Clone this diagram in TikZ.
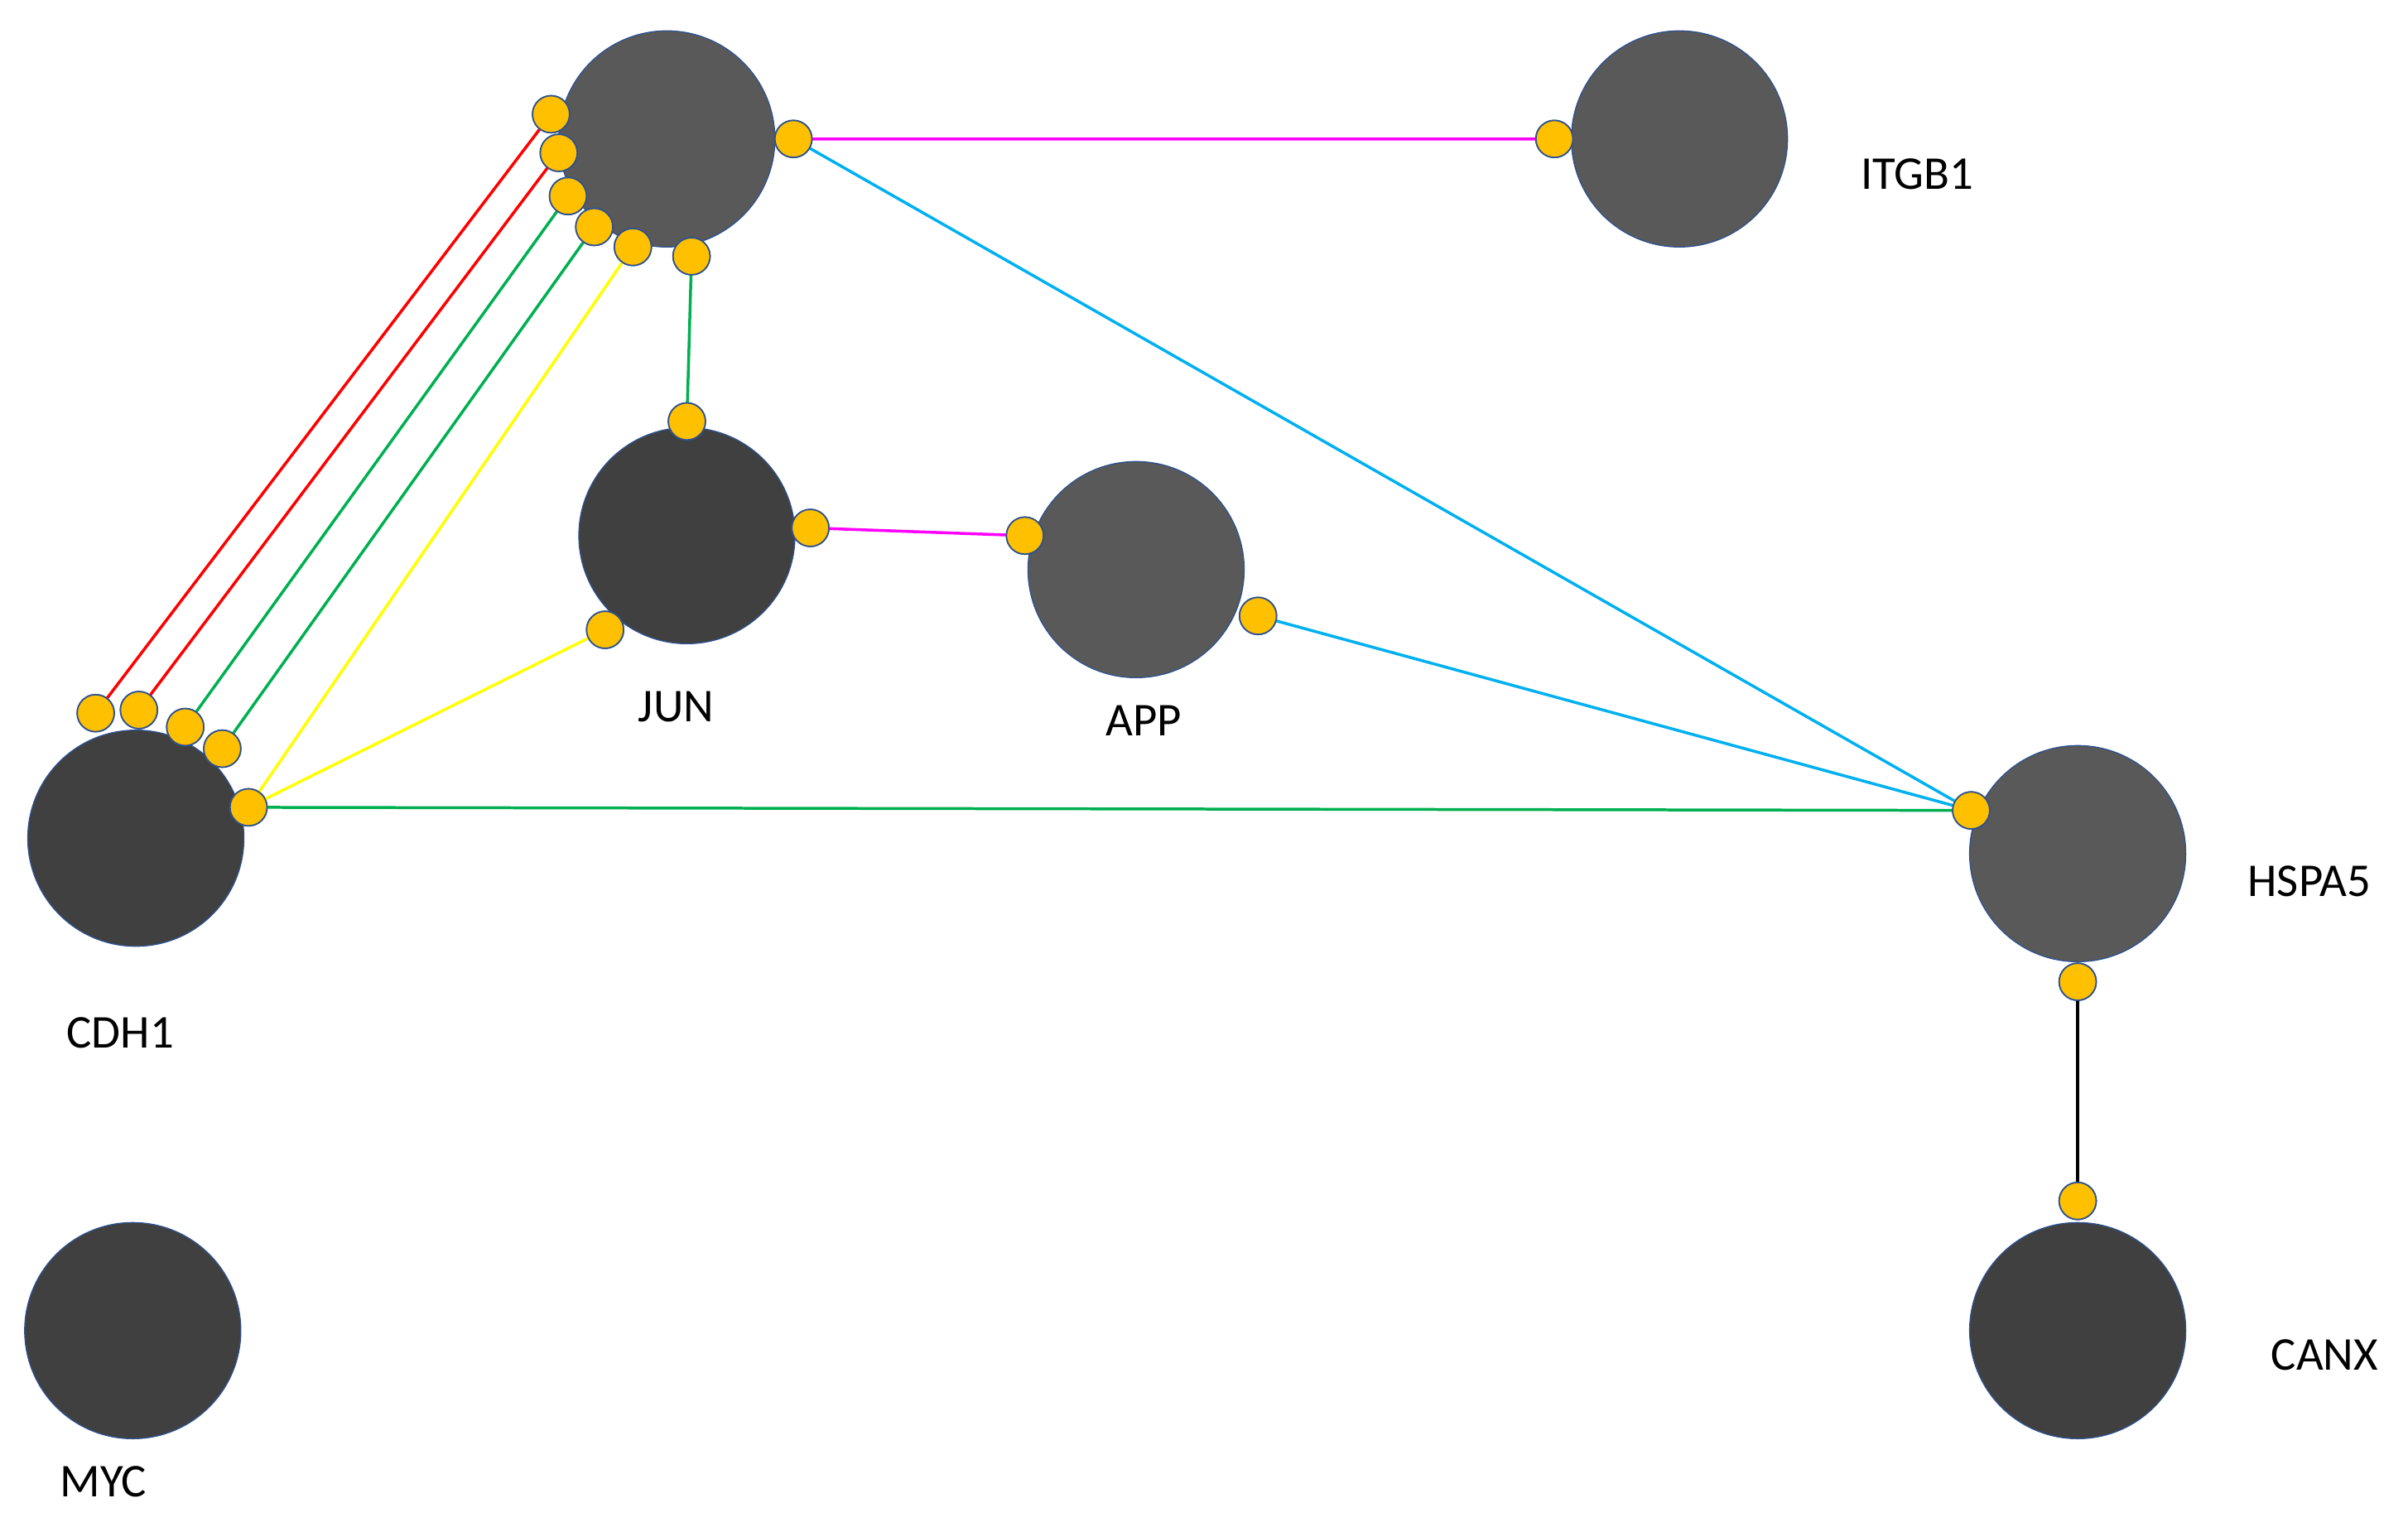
\documentclass[tikz,border=0pt]{standalone}
\usepackage{fontspec}
\setmainfont{Carlito}
\usepackage{tikz}

\definecolor{darkgene}{HTML}{404040}
\definecolor{midgene}{HTML}{595959}
\definecolor{portfill}{HTML}{FFC000}
\definecolor{portline}{HTML}{2F528F}
\definecolor{cyanlink}{HTML}{00B0F0}
\definecolor{greenlink}{HTML}{00B050}
\definecolor{magentalink}{HTML}{FF00FF}
\definecolor{yellowlink}{HTML}{FFFF00}

\begin{document}
\begin{tikzpicture}[x=0.03cm,y=-0.03cm]
	\useasboundingbox (0,0) rectangle (1560,989);
	\tikzset{gene/.style={draw=portline,line width=0.6pt,shape=circle,minimum size=4.2cm,inner sep=0pt},
		port/.style={draw=portline,line width=0.8pt,shape=circle,fill=portfill,minimum size=0.72cm,inner sep=0pt},
		link/.style={line width=1.6pt},
		gname/.style={font=\fontsize{26}{30}\selectfont}}
	% genes
	\node[gene,fill=midgene] (top) at (432,90) {};
	\node[gene,fill=midgene] (itgb) at (1088,90) {};
	\node[gene,fill=darkgene] (jun) at (445,347) {};
	\node[gene,fill=midgene] (app) at (736,369) {};
	\node[gene,fill=darkgene] (cdh) at (88,543) {};
	\node[gene,fill=midgene] (hspa) at (1346,553) {};
	\node[gene,fill=darkgene] (myc) at (86,862) {};
	\node[gene,fill=darkgene] (canx) at (1346,862) {};
	\node[gname] (litgb) at (1242,113) {ITGB1};
	\node[gname] (ljun) at (438,458) {JUN};
	\node[gname] (lapp) at (741,467) {APP};
	\node[gname] (lcdh) at (78,669) {CDH1};
	\node[gname] (lhspa) at (1496,571) {HSPA5};
	\node[gname] (lmyc) at (67,960) {MYC};
	\node[gname] (lcanx) at (1506,878) {CANX};
	% ports
	\node[port] (t1) at (357,74) {};
	\node[port] (t2) at (362,99) {};
	\node[port] (t3) at (368,127) {};
	\node[port] (t4) at (385,147) {};
	\node[port] (t5) at (410,160) {};
	\node[port] (t6) at (448,166) {};
	\node[port] (t7) at (514,90) {};
	\node[port] (i1) at (1007,90) {};
	\node[port] (j1) at (445,273) {};
	\node[port] (j2) at (525,342) {};
	\node[port] (j3) at (392,408) {};
	\node[port] (a1) at (664,347) {};
	\node[port] (a2) at (815,399) {};
	\node[port] (c1) at (62,462) {};
	\node[port] (c2) at (90,460) {};
	\node[port] (c3) at (120,471) {};
	\node[port] (c4) at (144,485) {};
	\node[port] (c5) at (161,523) {};
	\node[port] (h1) at (1277,525) {};
	\node[port] (h2) at (1346,636) {};
	\node[port] (x1) at (1346,778) {};
	% links
	\begin{scope}[on background layer/.style={}]
	\end{scope}
	\draw[link,red] (c1.center)--(t1.center) (c2.center)--(t2.center);
	\draw[link,greenlink] (c3.center)--(t3.center) (c4.center)--(t4.center) (c5.center)--(h1.center) (t6.center)--(j1.center);
	\draw[link,yellowlink] (c5.center)--(t5.center) (c5.center)--(j3.center);
	\draw[link,magentalink] (t7.center)--(i1.center) (j2.center)--(a1.center);
	\draw[link,cyanlink] (t7.center)--(h1.center) (a2.center)--(h1.center);
	\draw[link,black] (h2.center)--(x1.center);
	% redraw ports over links
	\foreach \p in {t1,t2,t3,t4,t5,t6,t7,i1,j1,j2,j3,a1,a2,c1,c2,c3,c4,c5,h1,h2,x1}
		\node[port] at (\p) {};
\end{tikzpicture}
\end{document}
